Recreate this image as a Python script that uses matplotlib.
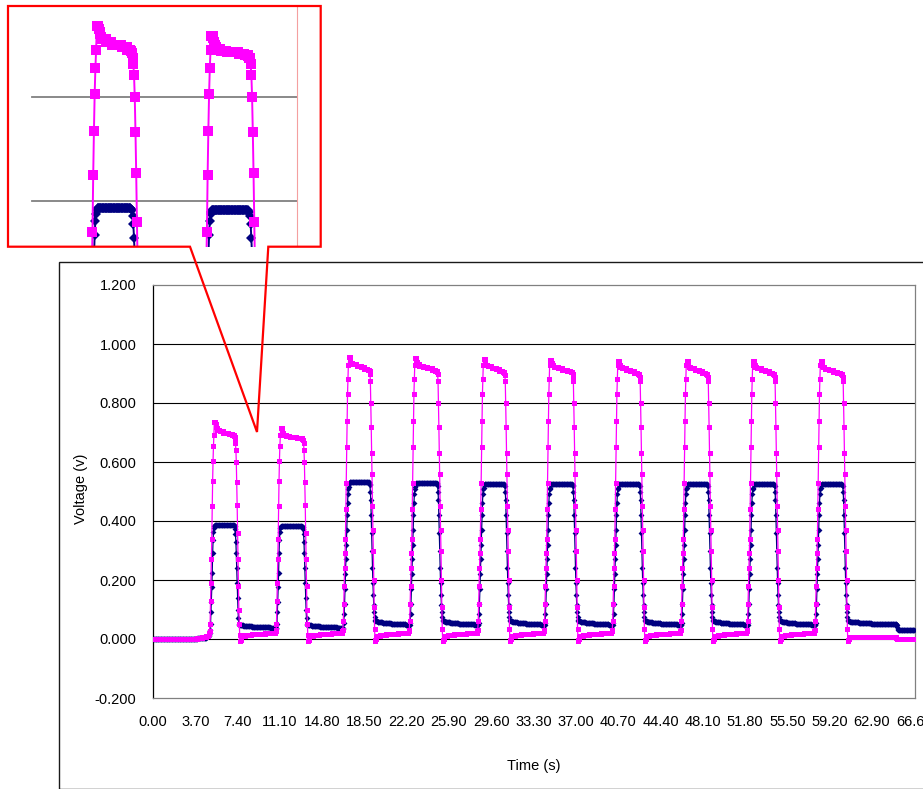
import numpy as np
import matplotlib
matplotlib.use("Agg")
import matplotlib.pyplot as plt
from matplotlib.patches import Polygon, Rectangle
from matplotlib.lines import Line2D

plt.rcParams['font.family'] = ['Liberation Sans', 'DejaVu Sans']

# ---------------------------------------------------------------- data
SAMPLE_STEP = 0.037          # seconds between logged samples
N_SAMPLES = 1801             # 0 .. 66.6 s

x_tick_labels = ["0.00", "3.70", "7.40", "11.10", "14.80", "18.50", "22.20",
                 "25.90", "29.60", "33.30", "37.00", "40.70", "44.40", "48.10",
                 "51.80", "55.50", "59.20", "62.90", "66.60"]
y_ticks = [-0.2, 0.0, 0.2, 0.4, 0.6, 0.8, 1.0, 1.2]
y_tick_labels = ["-0.200", "0.000", "0.200", "0.400", "0.600", "0.800",
                 "1.000", "1.200"]

# sample index where each pulse reaches its top, and where it starts to fall
pulse_top_start = [145, 302, 463, 620, 782, 939, 1100, 1262, 1419, 1579]
pulse_top_end = [194, 355, 514, 674, 833, 994, 1152, 1313, 1471, 1632]

# Run lists: a bare number is one sample, (value, count) is a run of equal
# samples, (value, None) is the run that holds until the segment ends.

# navy series (diamonds)
navy_lead = [(0.0, None), (0.002, 12), (0.005, 10), (0.009, 6), 0.014, 0.02, 0.03]
navy_rise_small = [0.05, 0.09, 0.125, 0.175, 0.225, 0.29, 0.335, 0.362, 0.376]
navy_rise_big = [0.055, 0.085, 0.12, 0.17, 0.22, 0.27, 0.32, 0.37, 0.42, 0.46, 0.49, 0.51]
navy_fall_small = [0.372, 0.355, 0.33, 0.29, 0.24, 0.19, 0.14, 0.10, 0.07]
navy_fall_big = [0.50, 0.47, 0.42, 0.36, 0.30, 0.24, 0.19, 0.15, 0.115, 0.09]
navy_tops = [
    [0.383, (0.387, None), 0.385, 0.382],
    [0.379, (0.383, None), 0.381, 0.378],
    [0.516, 0.524, (0.531, None), 0.527, 0.521],
    [0.514, 0.522, (0.528, None), 0.524, 0.518],
    [0.513, 0.521, (0.527, None), 0.523, 0.517],
    [0.513, 0.521, (0.527, None), 0.523, 0.517],
    [0.513, 0.521, (0.527, None), 0.523, 0.517],
    [0.513, 0.521, (0.527, None), 0.523, 0.517],
    [0.513, 0.521, (0.527, None), 0.523, 0.517],
    [0.513, 0.521, (0.527, None), 0.523, 0.517],
]
navy_low_small = [0.05, (0.046, 10), (0.043, 20), (0.04, None), (0.037, 15), 0.035]
navy_low_big = [0.075, 0.066, (0.06, 5), (0.056, 12), (0.053, 20), (0.05, None), (0.048, 10)]
navy_low_last = [0.075, 0.066, (0.06, 5), (0.056, 20), (0.053, 30), (0.051, None),
                 0.046, 0.04, 0.035, 0.032, (0.03, 38)]

# magenta series (squares)
pink_lead = [(0.0, None), (0.002, 12), (0.006, 10), (0.011, 6), 0.016, 0.02, 0.028]
pink_rise_small = [0.05, 0.13, 0.19, 0.27, 0.34, 0.45, 0.535, 0.605, 0.655, 0.69]
pink_rise_big = [0.06, 0.12, 0.18, 0.24, 0.29, 0.34, 0.44, 0.53, 0.65, 0.74, 0.83, 0.88, 0.93]
pink_fall_small = [0.675, 0.663, 0.642, 0.60, 0.533, 0.453, 0.36, 0.27, 0.18, 0.10, 0.05, 0.012]
pink_fall_big = [0.875, 0.80, 0.72, 0.63, 0.56, 0.45, 0.37, 0.30, 0.20, 0.11, 0.035]
pink_tops = [
    [(0.735, 3), 0.73, 0.725, 0.72, 0.715, (0.71, 6), (0.705, 8), (0.70, None),
     (0.695, 8), (0.69, 5), 0.687, 0.684],
    [(0.716, 3), 0.712, 0.705, 0.70, 0.695, (0.692, 6), (0.688, 8), (0.685, None),
     (0.682, 8), (0.68, 5), 0.678, 0.675],
    [(0.957, 3), 0.95, 0.942, (0.936, 4), (0.931, 10), (0.926, 10), (0.921, None),
     (0.916, 8), (0.912, 4), 0.908, 0.90],
    [(0.952, 3), 0.945, 0.938, (0.932, 4), (0.927, 10), (0.922, 10), (0.917, None),
     (0.912, 8), (0.908, 4), 0.904, 0.897],
    [(0.948, 3), 0.942, 0.935, (0.93, 4), (0.925, 10), (0.92, 10), (0.915, None),
     (0.91, 8), (0.906, 4), 0.902, 0.895],
    [(0.947, 3), 0.94, 0.934, (0.928, 4), (0.923, 10), (0.918, 10), (0.913, None),
     (0.908, 8), (0.904, 4), 0.90, 0.893],
    [(0.942, 3), 0.935, 0.928, (0.922, 4), (0.917, 10), (0.912, 10), (0.907, None),
     (0.903, 8), (0.899, 4), 0.895, 0.888],
    [(0.942, 3), 0.935, 0.928, (0.922, 4), (0.917, 10), (0.912, 10), (0.907, None),
     (0.903, 8), (0.899, 4), 0.895, 0.888],
    [(0.942, 3), 0.935, 0.928, (0.922, 4), (0.917, 10), (0.912, 10), (0.907, None),
     (0.903, 8), (0.899, 4), 0.895, 0.888],
    [(0.941, 3), 0.934, 0.927, (0.921, 4), (0.916, 10), (0.911, 10), (0.906, None),
     (0.902, 8), (0.898, 4), 0.894, 0.887],
]
pink_low = [-0.008, -0.005, 0.0, 0.006, (0.010, 8), (0.013, 15), (0.016, None),
            (0.019, 15), (0.022, 10), 0.026, 0.032]
pink_low_last = [-0.008, -0.005, 0.0, 0.004, (0.008, None), 0.005, 0.002, (0.0, 42)]


def expand(runs, total):
    fixed = sum((r[1] or 0) if isinstance(r, tuple) else 1 for r in runs)
    out = []
    for r in runs:
        if isinstance(r, tuple):
            v, n = r
            out += [v] * (n if n is not None else max(total - fixed, 0))
        else:
            out.append(r)
    return out


def build(lead, rises, tops, falls, lows):
    values = expand(lead, pulse_top_start[0] - len(rises[0]))
    for k in range(len(pulse_top_start)):
        values += list(rises[k])
        values += expand(tops[k], pulse_top_end[k] - pulse_top_start[k])
        values += list(falls[k])
        if k + 1 < len(pulse_top_start):
            stop = pulse_top_start[k + 1] - len(rises[k + 1])
        else:
            stop = N_SAMPLES
        values += expand(lows[k], stop - len(values))
    return np.array(values[:N_SAMPLES], dtype=float)


navy = build(navy_lead,
             [navy_rise_small] * 2 + [navy_rise_big] * 8,
             navy_tops,
             [navy_fall_small] * 2 + [navy_fall_big] * 8,
             [navy_low_small] * 2 + [navy_low_big] * 7 + [navy_low_last])
pink = build(pink_lead,
             [pink_rise_small] * 2 + [pink_rise_big] * 8,
             pink_tops,
             [pink_fall_small] * 2 + [pink_fall_big] * 8,
             [pink_low] * 9 + [pink_low_last])
time_s = np.arange(len(navy)) * SAMPLE_STEP

# ---------------------------------------------------------------- layout
W, H = 923, 789
fig = plt.figure(figsize=(W / 100, H / 100), dpi=100)
fig.patch.set_facecolor("white")


def fx(px):
    return px / W


def fy(py):
    return 1 - py / H


NAVY = "#000080"
MAGENTA = "#FF00FF"

# outer chart frame
fig.patches.append(Rectangle((fx(58.5), fy(788.5)), fx(940) - fx(58.5),
                             fy(261.5) - fy(788.5), transform=fig.transFigure,
                             facecolor="none", edgecolor="#1a1a1a", lw=1.0,
                             zorder=0.5))

# main plot area
px_l, px_r, px_t, px_b = 153, 915, 285, 698
ax = fig.add_axes([fx(px_l), fy(px_b), fx(px_r) - fx(px_l), fy(px_t) - fy(px_b)])
ax.set_facecolor("white")
ax.set_xlim(0, 66.67)
ax.set_ylim(-0.2, 1.2)
ax.set_xticks([float(s) for s in x_tick_labels])
ax.set_xticklabels(x_tick_labels)
ax.set_yticks(y_ticks)
ax.set_yticklabels(y_tick_labels)
ax.tick_params(length=0, labelsize=10.5, pad=12, colors="black")
for v in y_ticks[1:-1]:
    ax.axhline(v, color="black", lw=0.8, zorder=1)
for side in ("top", "right", "bottom"):
    ax.spines[side].set_color("#808080")
    ax.spines[side].set_linewidth(0.9)
ax.spines["left"].set_color("black")
ax.spines["left"].set_linewidth(0.9)

ax.plot(time_s, navy, color=NAVY, lw=0.9, marker="D", ms=3.0, mew=0,
        mfc=NAVY, zorder=3)
ax.plot(time_s, pink, color=MAGENTA, lw=0.9, marker="s", ms=3.6, mew=0,
        mfc=MAGENTA, zorder=4)

fig.text(fx(81), fy(489), "Voltage (v)", rotation=90, ha="center", va="center",
         fontsize=10.5)
fig.text(fx(534), fy(766), "Time (s)", ha="center", va="center", fontsize=10.5)

# magnified view of the first two pulses
box_l, box_r, box_t, box_b = 8, 320.7, 6, 246.7
ax_in = fig.add_axes([fx(box_l), fy(box_b), fx(box_r) - fx(box_l),
                      fy(box_t) - fy(box_b)], zorder=5)
ax_in.set_facecolor("white")
ax_in.set_xlim(0.854, 16.73)
ax_in.set_ylim(0.3124, 0.7739)
ax_in.set_xticks([])
ax_in.set_yticks([])
for s in ax_in.spines.values():
    s.set_visible(False)
grid_x0 = (32 - box_l) / (box_r - box_l)
grid_x1 = (296.7 - box_l) / (box_r - box_l)
for v in (0.4, 0.6):
    ax_in.axhline(v, xmin=grid_x0, xmax=grid_x1, color="#808080", lw=1.3, zorder=1)
ax_in.add_line(Line2D([grid_x1, grid_x1], [0, 1], transform=ax_in.transAxes,
                      color="#F4A0A0", lw=0.8, zorder=1))
ax_in.plot(time_s, navy, color=NAVY, lw=1.4, marker="D", ms=4.8, mew=0,
           mfc=NAVY, zorder=3)
ax_in.plot(time_s, pink, color=MAGENTA, lw=1.4, marker="s", ms=7.0, mew=0,
           mfc=MAGENTA, zorder=4)

# red callout outline pointing into the main chart
tip = (257, 432)
callout = [(box_l, box_t), (box_r, box_t), (box_r, box_b), (268.3, box_b), tip,
           (190, box_b), (box_l, box_b)]
fig.patches.append(Polygon([(fx(a), fy(b)) for a, b in callout], closed=True,
                           transform=fig.transFigure, facecolor="none",
                           edgecolor="#FF0000", lw=1.6, joinstyle="miter",
                           zorder=10))

fig.savefig("out.png", dpi=100, facecolor="white")
